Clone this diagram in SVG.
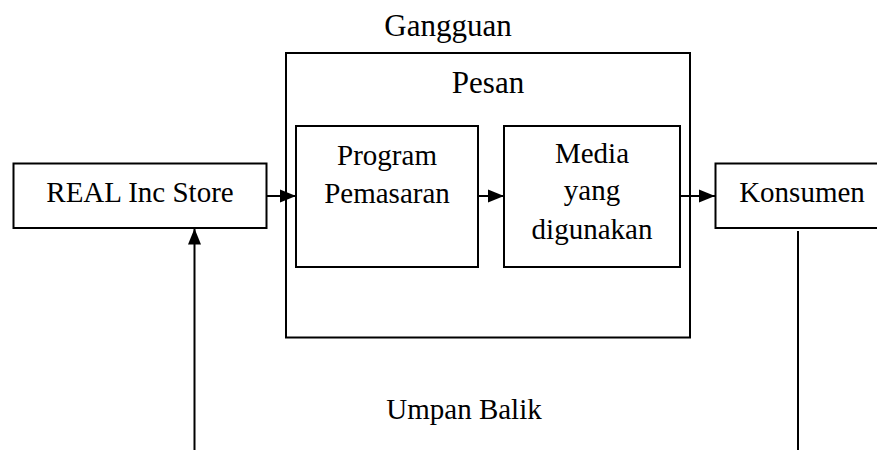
<svg xmlns="http://www.w3.org/2000/svg" width="877" height="450" viewBox="0 0 877 450">
<style>
.box{fill:#fff;stroke:#000;stroke-width:2}
.t{font-family:"Liberation Serif","Times New Roman",serif;font-size:29px;fill:#000;text-anchor:middle}
.big{font-size:31px}
.ln{stroke:#000;stroke-width:2;fill:none}
</style>
<defs>
<marker id="ah" markerUnits="userSpaceOnUse" markerWidth="17" markerHeight="16" refX="16" refY="8" orient="auto">
<path d="M0,1.5 L16,8 L0,14.5 Z" fill="#000"/>
</marker>
</defs>
<rect width="877" height="450" fill="#fff"/>
<text class="t big" x="448" y="36">Gangguan</text>
<g id="pesan">
<rect class="box" x="286" y="53" width="404" height="284.5"/>
<text class="t big" x="488" y="93">Pesan</text>
</g>
<g id="real">
<rect class="box" x="13.5" y="163.5" width="253" height="64.5"/>
<text class="t" x="140" y="202">REAL Inc Store</text>
</g>
<g id="program">
<rect class="box" x="296" y="126" width="182" height="141"/>
<text class="t" x="387" y="165">Program</text>
<text class="t" x="387" y="203">Pemasaran</text>
</g>
<g id="media">
<rect class="box" x="504" y="126" width="176" height="141"/>
<text class="t" x="592" y="163">Media</text>
<text class="t" x="592" y="200">yang</text>
<text class="t" x="592" y="239">digunakan</text>
</g>
<g id="konsumen">
<rect class="box" x="715.5" y="163.5" width="165" height="64.5"/>
<text class="t" x="802" y="202">Konsumen</text>
</g>
<text class="t" x="464" y="419">Umpan Balik</text>
<g id="connectors">
<line class="ln" x1="267" y1="196" x2="296" y2="196" marker-end="url(#ah)"/>
<line class="ln" x1="478" y1="196" x2="504" y2="196" marker-end="url(#ah)"/>
<line class="ln" x1="680" y1="196" x2="715" y2="196" marker-end="url(#ah)"/>
<line class="ln" x1="798" y1="231" x2="798" y2="450"/>
<line class="ln" x1="194.5" y1="450" x2="194.5" y2="228.5" marker-end="url(#ah)"/>
</g>
</svg>
